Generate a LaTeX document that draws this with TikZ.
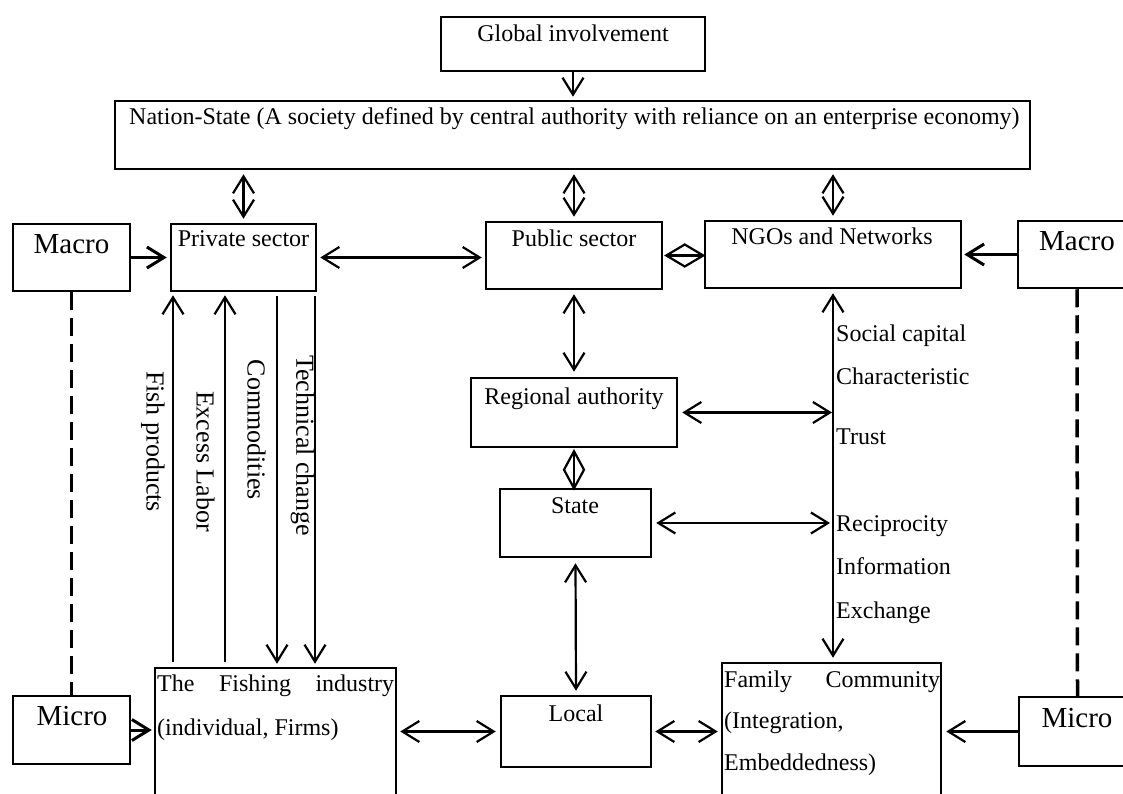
\documentclass[tikz,border=0pt]{standalone}
\usepackage{fontspec}
\setmainfont{Liberation Serif}
\usetikzlibrary{arrows.meta}
\begin{document}
\begin{tikzpicture}[x=1pt,y=-1pt,
  box/.style 2 args={draw, line width=2.5pt, inner sep=0pt, minimum width=#1pt, minimum height=#2pt},
  txt/.style={inner sep=0pt, anchor=base, font=\fontsize{24}{28}\selectfont},
  big/.style={inner sep=0pt, anchor=base, font=\fontsize{29}{34}\selectfont},
  side/.style={inner sep=0pt, rotate=-90, font=\fontsize{26}{30}\selectfont},
  barb/.tip={Straight Barb[length=17pt,width=21pt]},
  arr/.style={line width=2.2pt, -barb},
  darr/.style={line width=2.2pt, barb-barb},
  thickarr/.style={line width=3pt, -barb},
  dashline/.style={line width=3.5pt, dash pattern=on 18pt off 8pt},
  link/.style={line width=2.2pt}
]
\useasboundingbox (0,0) rectangle (1123,794);
\fill[white] (0,0) rectangle (1123,794);
\begin{scope}
\clip (0,0) rectangle (1123,794);

% boxes
\node[box={264}{54}]  (global) at (573,44) {};
\node[box={915}{68}]  (nation) at (572.5,135) {};
\node[box={117}{67}]  (macroL) at (71.5,257.5) {};
\node[box={145}{67}]  (priv)   at (243.5,257.5) {};
\node[box={176}{67}]  (pub)    at (574,255.5) {};
\node[box={256}{67}]  (ngo)    at (833,254.5) {};
\node[box={118}{67}]  (macroR) at (1077,254.5) {};
\node[box={206}{69}]  (reg)    at (574,412.5) {};
\node[box={151}{68}]  (state)  at (575.5,523) {};
\node[box={150}{71}]  (local)  at (576,731.5) {};
\node[box={241}{152}] (fish)   at (275.5,744) {};
\node[box={219}{157}] (family) at (831.5,741.5) {};
\node[box={117}{68}]  (microL) at (71.5,730) {};
\node[box={117}{69}]  (microR) at (1077.5,731.5) {};

% box texts
\node[txt] (globalT) at (573,42) {Global involvement};
\node[txt, anchor=base west] (nationT) at (129,125)
  {Nation-State (A society defined by central authority with reliance on an enterprise economy)};
\node[big] (macroLT) at (71.5,253) {Macro};
\node[txt] (privT) at (243.5,247) {Private sector};
\node[txt] (pubT) at (574,246) {Public sector};
\node[txt] (ngoT) at (832,244) {NGOs and Networks};
\node[big] (macroRT) at (1077,251) {Macro};
\node[txt] (regT) at (574,404) {Regional authority};
\node[txt] (stateT) at (575,513) {State};
\node[txt] (localT) at (576,721) {Local};
\node[big] (microLT) at (72,725) {Micro};
\node[big] (microRT) at (1077,727) {Micro};
\node[txt, anchor=base west] (fishT1) at (157,691) {\makebox[237pt][s]{The Fishing industry}};
\node[txt, anchor=base west] (fishT2) at (157,735) {(individual, Firms)};
\node[txt, anchor=base west] (famT1) at (724,687) {\makebox[216pt][s]{Family Community}};
\node[txt, anchor=base west] (famT2) at (724,728) {(Integration,};
\node[txt, anchor=base west] (famT3) at (724,770) {Embeddedness)};

% social capital labels
\node[txt, anchor=base west] (sc1) at (836,341) {Social capital};
\node[txt, anchor=base west] (sc2) at (836,384) {Characteristic};
\node[txt, anchor=base west] (sc3) at (836,444) {Trust};
\node[txt, anchor=base west] (sc4) at (836,531) {Reciprocity};
\node[txt, anchor=base west] (sc5) at (836,574) {Information};
\node[txt, anchor=base west] (sc6) at (836,618) {Exchange};

% flows between the fishing industry and the private sector
\coordinate (xfp) at (173,0);
\coordinate (xel) at (225,0);
\coordinate (xco) at (277,0);
\coordinate (xtc) at (315,0);
\node[side] (lfp) at (153,441.5) {Fish products};
\node[side] (lel) at (205.5,461.5) {Excess Labor};
\node[side] (lco) at (256.5,430) {Commodities};
\node[side] (ltc) at (302.5,445.5) {Technical change};
\draw[arr] ([yshift=5pt]xfp |- fish.north) -- ([yshift=-3pt]xfp |- priv.south);
\draw[arr] ([yshift=5pt]xel |- fish.north) -- ([yshift=-3pt]xel |- priv.south);
\draw[arr] ([yshift=-4pt]xco |- priv.south) -- ([yshift=3pt]xco |- fish.north);
\draw[arr] ([yshift=-4pt]xtc |- priv.south) -- ([yshift=3pt]xtc |- fish.north);

% top level links
\draw[arr] (global.south) -- ([yshift=3pt]global.south |- nation.north);
\draw[darr] ([yshift=-4pt]priv.north |- nation.south) -- ([yshift=4pt]priv.north);
\draw[darr] ([yshift=-4pt]pub.north |- nation.south) -- ([yshift=4pt]pub.north);
\draw[darr] ([yshift=-4pt]ngo.north |- nation.south) -- ([yshift=4pt]ngo.north);
\draw[thickarr] (macroL.east) -- ([xshift=-3pt]priv.west |- macroL.east);
\draw[darr] ([xshift=3pt]priv.east) -- ([xshift=-3pt]pub.west |- priv.east);
\draw[thickarr] (macroR.west) -- ([xshift=2pt]ngo.east |- macroR.west);

% public sector -- NGOs diamond
\draw[link] ([xshift=3pt]pub.east) -- ++(18.5,11) -- ++(18.5,-11) -- ++(-18.5,-11) -- cycle;
\draw[link] ([xshift=3pt]pub.east) -- ++(37,0);

% government hierarchy
\draw[darr] ([yshift=-4pt]pub.south) -- ([yshift=5pt]reg.north);
\draw[link] ([yshift=-3pt]reg.south) -- ++(10,18.5) -- ++(-10,18.5) -- ++(-10,-18.5) -- cycle;
\draw[link] ([yshift=-3pt]reg.south) -- ++(0,37);
\draw[darr] ([yshift=-5pt]state.south) -- ([yshift=4pt]local.north);

% social capital axis
\draw[darr] ([yshift=-4pt]ngo.south) -- ([yshift=4pt]ngo.south |- family.north);
\draw[darr] ([xshift=4pt]reg.east) -- ([xshift=-1pt]reg.east -| ngo.south);
\draw[darr] ([xshift=4pt]state.east) -- ([xshift=-3pt]state.east -| ngo.south);

% macro -- micro levels
\draw[dashline] (macroL.south) -- (microL.north);
\draw[dashline] (macroR.south) -- (microR.north);

% bottom row
\draw[thickarr] (microL.east) -- ([xshift=-2pt]fish.west |- microL.east);
\draw[darr] ([xshift=3pt]fish.east |- local.west) -- ([xshift=-4pt]local.west);
\draw[darr] ([xshift=3pt]local.east) -- ([xshift=-3pt]family.west |- local.east);
\draw[arr] (microR.west) -- ([xshift=4pt]family.east |- microR.west);
\end{scope}
\end{tikzpicture}
\end{document}
